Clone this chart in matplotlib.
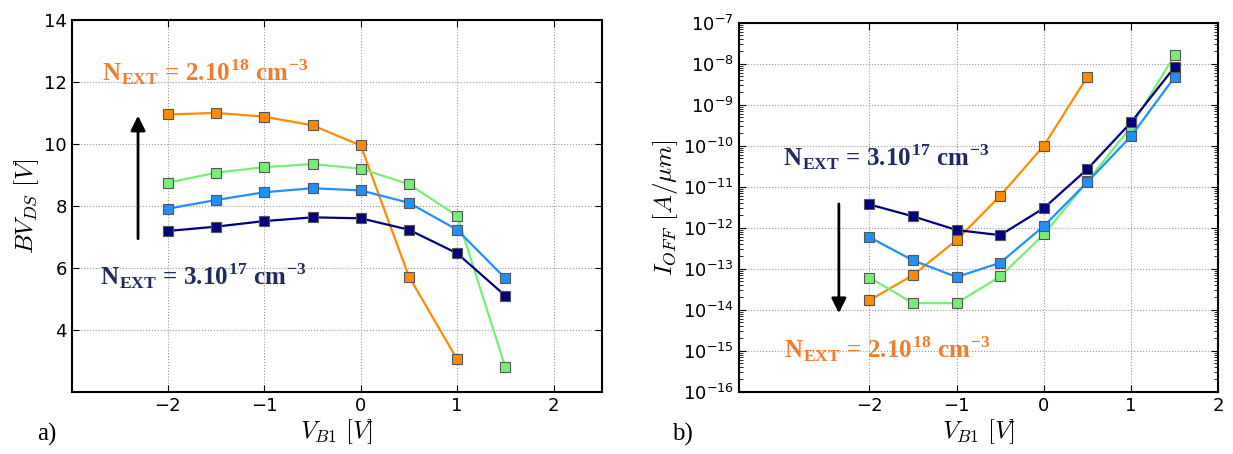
import numpy as np
import matplotlib
matplotlib.use('Agg')
import matplotlib.pyplot as plt
from matplotlib.ticker import LogLocator

# datos
vb1 = [-2.0, -1.5, -1.0, -0.5, 0.0, 0.5, 1.0, 1.5]

bv_orange = [10.95, 11.0, 10.88, 10.6, 9.95, 5.72, 3.05]
bv_green = [8.75, 9.07, 9.25, 9.35, 9.2, 8.7, 7.68, 2.8]
bv_blue = [7.91, 8.19, 8.44, 8.57, 8.5, 8.1, 7.23, 5.66]
bv_navy = [7.19, 7.33, 7.51, 7.63, 7.6, 7.23, 6.47, 5.1]

ioff_orange = [1.7e-14, 7e-14, 5e-13, 6e-12, 1e-10, 4.8e-9]
ioff_green = [6.1e-14, 1.45e-14, 1.45e-14, 6.5e-14, 6.9e-13, 1.35e-11, 2.9e-10, 1.6e-8]
ioff_blue = [5.9e-13, 1.6e-13, 6.3e-14, 1.4e-13, 1.1e-12, 1.3e-11, 1.7e-10, 4.7e-9]
ioff_navy = [3.7e-12, 1.9e-12, 8.8e-13, 6.6e-13, 3e-12, 2.7e-11, 3.7e-10, 8.3e-9]

c_orange = '#ff8c00'
c_green = '#77ee77'
c_blue = '#1e90ff'
c_navy = '#000080'
txt_orange = '#ee7d31'
txt_navy = '#1f2a60'

plt.rcParams['font.size'] = 13
plt.rcParams['mathtext.fontset'] = 'cm'
plt.rcParams['xtick.direction'] = 'in'
plt.rcParams['ytick.direction'] = 'in'
plt.rcParams['xtick.top'] = True
plt.rcParams['ytick.right'] = True
plt.rcParams['xtick.major.size'] = 5
plt.rcParams['ytick.major.size'] = 5
plt.rcParams['ytick.minor.size'] = 3

fig = plt.figure(figsize=(12.33, 4.54), dpi=100)
ax1 = fig.add_axes([0.058, 0.137, 0.430, 0.819])
ax2 = fig.add_axes([0.599, 0.137, 0.389, 0.813])

def curva(ax, x, y, color):
    ax.plot(x, y, '-s', color=color, lw=1.6, ms=7, mfc=color, mec='#555555', mew=0.8)

def estilo(ax):
    ax.grid(True, ls=':', color='#999999', lw=0.8)
    for s in ax.spines.values():
        s.set_linewidth(1.5)

def etiqueta(ax, x, y, exp, color):
    ax.text(x, y, r'N$_\mathregular{EXT}$ = %s$^\mathregular{%s}$ cm$^\mathregular{-3}$' % (
        '2.10' if exp == '18' else '3.10', exp),
        color=color, fontsize=18, fontweight='bold', family='Liberation Serif')

# a) tension de ruptura
curva(ax1, vb1[:7], bv_orange, c_orange)
curva(ax1, vb1, bv_green, c_green)
curva(ax1, vb1, bv_blue, c_blue)
curva(ax1, vb1, bv_navy, c_navy)
ax1.set_xlim(-3, 2.5)
ax1.set_ylim(2, 14)
ax1.set_xticks([-2, -1, 0, 1, 2])
ax1.set_yticks([4, 6, 8, 10, 12, 14])
estilo(ax1)
ax1.set_xlabel(r'$V_{B1}\ [V]$', fontsize=18, labelpad=2)
ax1.set_ylabel(r'$BV_{DS}\ [V]$', fontsize=18, labelpad=2)
etiqueta(ax1, -2.68, 12.05, '18', txt_orange)
etiqueta(ax1, -2.70, 5.45, '17', txt_navy)
ax1.annotate('', xy=(-2.31, 11.0), xytext=(-2.31, 6.85),
             arrowprops=dict(arrowstyle='-|>', color='black', lw=2, mutation_scale=22))

# b) corriente de fuga
curva(ax2, vb1[:6], ioff_orange, c_orange)
curva(ax2, vb1, ioff_green, c_green)
curva(ax2, vb1, ioff_blue, c_blue)
curva(ax2, vb1, ioff_navy, c_navy)
ax2.set_yscale('log')
ax2.set_xlim(-3.5, 2)
ax2.set_ylim(1e-16, 1e-7)
ax2.set_xticks([-2, -1, 0, 1, 2])
ax2.set_yticks([10.0 ** k for k in range(-16, -6)])
ax2.yaxis.set_minor_locator(LogLocator(base=10, subs=np.arange(2, 10), numticks=100))
estilo(ax2)
ax2.grid(False, which='minor')
ax2.set_xlabel(r'$V_{B1}\ [V]$', fontsize=18, labelpad=2)
ax2.set_ylabel(r'$I_{OFF}\ [A/\mu m]$', fontsize=18, labelpad=2)
etiqueta(ax2, -2.99, 10 ** -10.48, '17', txt_navy)
etiqueta(ax2, -2.98, 10 ** -15.18, '18', txt_orange)
ax2.annotate('', xy=(-2.35, 10 ** -14.15), xytext=(-2.35, 10 ** -11.35),
             arrowprops=dict(arrowstyle='-|>', color='black', lw=2, mutation_scale=22))

fig.text(0.030, 0.03, 'a)', fontsize=18, family='Liberation Serif')
fig.text(0.545, 0.03, 'b)', fontsize=18, family='Liberation Serif')

fig.savefig('out.png', dpi=100)
